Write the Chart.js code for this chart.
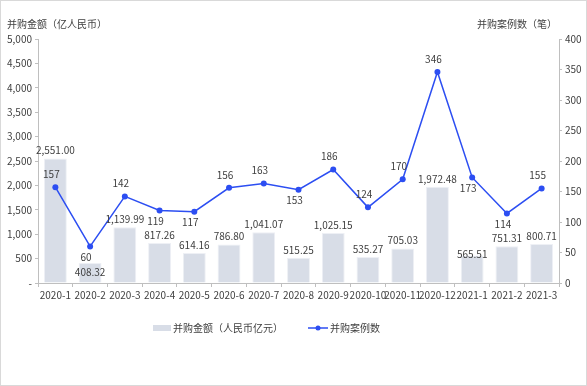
<!DOCTYPE html>
<html>
<head>
<meta charset="utf-8">
<script src="https://cdn.jsdelivr.net/npm/chart.js@4.4.0/dist/chart.umd.min.js"></script>
<style>
    html, body { margin: 0; padding: 0; background: #fff; }
    #wrap { width: 585px; height: 384px; border: 1px solid #d9d9d9; position: relative; }
    canvas { display: block; }
</style>
</head>
<body>
<div id="wrap"><canvas id="chart" width="585" height="384"></canvas></div>
<script>

// monthly M&A data
var months = ["2020-1", "2020-2", "2020-3", "2020-4", "2020-5", "2020-6", "2020-7", "2020-8",
    "2020-9", "2020-10", "2020-11", "2020-12", "2021-1", "2021-2", "2021-3"];
var amounts = [2551.00, 408.32, 1139.99, 817.26, 614.16, 786.80, 1041.07, 515.25,
    1025.15, 535.27, 705.03, 1972.48, 565.51, 751.31, 800.71];
var deals = [157, 60, 142, 119, 117, 156, 163, 153, 186, 124, 170, 346, 173, 114, 155];

// where the value labels sit (t = above, b = below, i = inside, m = on top edge)
var dealLabelPos = ["t", "b", "t", "b", "b", "t", "t", "b", "t", "t", "t", "t", "b", "b", "t"];
var amountLabelPos = ["t", "i", "t", "t", "t", "t", "t", "t", "t", "t", "t", "t", "m", "t", "t"];

var FONT = '"Noto Sans CJK SC", "Noto Sans", sans-serif';
var TEXT = "#404040";
var AXIS = "#bfbfbf";
var BLUE = "#2c4ef2";
var BAR = "#d8dde7";

function fmt(v, d) {
    return v.toLocaleString("en-US", {minimumFractionDigits: d, maximumFractionDigits: d});
}

var labelPlugin = {
    id: "labels",
    afterDatasetsDraw: function (chart) {
        var ctx = chart.ctx;
        ctx.save();
        ctx.font = "10px " + FONT;
        ctx.fillStyle = TEXT;
        ctx.textAlign = "center";
        ctx.textBaseline = "middle";

        var bars = chart.getDatasetMeta(0).data;
        for (var i = 0; i < bars.length; i++) {
            var b = bars[i];
            var dy = -8;
            if (amountLabelPos[i] == "i") dy = 9;
            if (amountLabelPos[i] == "m") dy = -1;
            ctx.fillText(fmt(amounts[i], 2), b.x, b.y + dy);
        }

        var pts = chart.getDatasetMeta(1).data;
        for (var j = 0; j < pts.length; j++) {
            var p = pts[j];
            var off = dealLabelPos[j] == "t" ? -13 : 11;
            ctx.fillText(String(deals[j]), p.x - 4, p.y + off);
        }

        // axis titles
        ctx.textAlign = "left";
        ctx.fillText("并购金额（亿人民币）", 6, 23);
        ctx.textAlign = "right";
        ctx.fillText("并购案例数（笔）", 556, 23);

        // legend
        var ly = 327;
        ctx.textAlign = "left";
        ctx.fillStyle = BAR;
        ctx.fillRect(152, ly - 3, 18, 6);
        ctx.fillStyle = TEXT;
        ctx.fillText("并购金额（人民币亿元）", 172, ly);
        ctx.strokeStyle = BLUE;
        ctx.lineWidth = 1.5;
        ctx.beginPath();
        ctx.moveTo(307, ly);
        ctx.lineTo(327, ly);
        ctx.stroke();
        ctx.fillStyle = BLUE;
        ctx.beginPath();
        ctx.arc(317, ly, 2.5, 0, Math.PI * 2);
        ctx.fill();
        ctx.fillStyle = TEXT;
        ctx.fillText("并购案例数", 329, ly);
        ctx.restore();
    }
};

var ctx = document.getElementById("chart").getContext("2d");
new Chart(ctx, {
    type: "bar",
    data: {
        labels: months,
        datasets: [
            {
                type: "bar",
                label: "并购金额（人民币亿元）",
                data: amounts,
                backgroundColor: BAR,
                borderColor: "#eef0f5",
                borderWidth: 1,
                barPercentage: 0.66,
                categoryPercentage: 1,
                yAxisID: "y",
                order: 2
            },
            {
                type: "line",
                label: "并购案例数",
                data: deals,
                borderColor: BLUE,
                backgroundColor: BLUE,
                borderWidth: 1.5,
                pointRadius: 3,
                pointBorderWidth: 0,
                tension: 0,
                yAxisID: "y1",
                order: 1
            }
        ]
    },
    options: {
        responsive: false,
        animation: false,
        layout: {padding: {top: 38, left: 0, right: 0, bottom: 0}},
        plugins: {legend: {display: false}, tooltip: {enabled: false}},
        scales: {
            x: {
                afterFit: function (s) { s.height = 102; },
                grid: {drawOnChartArea: false, offset: true, color: AXIS, tickLength: 4},
                border: {color: AXIS},
                ticks: {color: TEXT, font: {size: 10, family: FONT}, autoSkip: false, maxRotation: 0, padding: 2}
            },
            y: {
                position: "left",
                min: 0, max: 5000,
                afterFit: function (s) { s.width = 37; },
                grid: {drawOnChartArea: false, color: AXIS, tickLength: 3},
                border: {color: AXIS},
                ticks: {
                    stepSize: 500, color: TEXT, padding: 3,
                    font: {size: 10, family: FONT},
                    callback: function (v) { return v == 0 ? "-" : fmt(v, 0); }
                }
            },
            y1: {
                position: "right",
                min: 0, max: 400,
                afterFit: function (s) { s.width = 27; },
                grid: {drawOnChartArea: false, color: AXIS, tickLength: 3},
                border: {color: AXIS},
                ticks: {stepSize: 50, color: TEXT, padding: 3, font: {size: 10, family: FONT}}
            }
        }
    },
    plugins: [labelPlugin]
});
</script>
</body>
</html>
